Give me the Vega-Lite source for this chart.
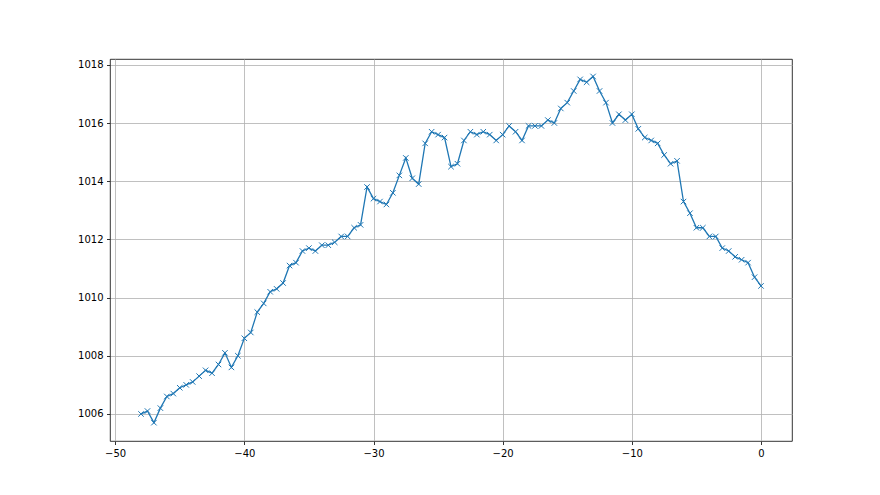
{
  "$schema": "https://vega.github.io/schema/vega-lite/v6.json",
  "autosize": "none",
  "width": 682,
  "height": 382,
  "padding": {"left": 110, "top": 59, "right": 88, "bottom": 54},
  "background": "white",
  "config": {
    "view": {"stroke": "black", "strokeWidth": 0.8},
    "axis": {
      "labelFont": "DejaVu Sans",
      "labelFontSize": 10,
      "labelColor": "black",
      "tickColor": "black",
      "tickSize": 3.5,
      "tickWidth": 0.8,
      "domain": false,
      "gridColor": "#b0b0b0",
      "gridWidth": 0.8,
      "labelPadding": 3.5,
      "title": null
    }
  },
  "data": {"values": [
    {"x": -48, "y": 1006.0}, {"x": -47.5, "y": 1006.1}, {"x": -47, "y": 1005.7}, {"x": -46.5, "y": 1006.2},
    {"x": -46, "y": 1006.6}, {"x": -45.5, "y": 1006.7}, {"x": -45, "y": 1006.9}, {"x": -44.5, "y": 1007.0},
    {"x": -44, "y": 1007.1}, {"x": -43.5, "y": 1007.3}, {"x": -43, "y": 1007.5}, {"x": -42.5, "y": 1007.4},
    {"x": -42, "y": 1007.7}, {"x": -41.5, "y": 1008.1}, {"x": -41, "y": 1007.6}, {"x": -40.5, "y": 1008.0},
    {"x": -40, "y": 1008.6}, {"x": -39.5, "y": 1008.8}, {"x": -39, "y": 1009.5}, {"x": -38.5, "y": 1009.8},
    {"x": -38, "y": 1010.2}, {"x": -37.5, "y": 1010.3}, {"x": -37, "y": 1010.5}, {"x": -36.5, "y": 1011.1},
    {"x": -36, "y": 1011.2}, {"x": -35.5, "y": 1011.6}, {"x": -35, "y": 1011.7}, {"x": -34.5, "y": 1011.6},
    {"x": -34, "y": 1011.8}, {"x": -33.5, "y": 1011.8}, {"x": -33, "y": 1011.9}, {"x": -32.5, "y": 1012.1},
    {"x": -32, "y": 1012.1}, {"x": -31.5, "y": 1012.4}, {"x": -31, "y": 1012.5}, {"x": -30.5, "y": 1013.8},
    {"x": -30, "y": 1013.4}, {"x": -29.5, "y": 1013.3}, {"x": -29, "y": 1013.2}, {"x": -28.5, "y": 1013.6},
    {"x": -28, "y": 1014.2}, {"x": -27.5, "y": 1014.8}, {"x": -27, "y": 1014.1}, {"x": -26.5, "y": 1013.9},
    {"x": -26, "y": 1015.3}, {"x": -25.5, "y": 1015.7}, {"x": -25, "y": 1015.6}, {"x": -24.5, "y": 1015.5},
    {"x": -24, "y": 1014.5}, {"x": -23.5, "y": 1014.6}, {"x": -23, "y": 1015.4}, {"x": -22.5, "y": 1015.7},
    {"x": -22, "y": 1015.6}, {"x": -21.5, "y": 1015.7}, {"x": -21, "y": 1015.6}, {"x": -20.5, "y": 1015.4},
    {"x": -20, "y": 1015.6}, {"x": -19.5, "y": 1015.9}, {"x": -19, "y": 1015.7}, {"x": -18.5, "y": 1015.4},
    {"x": -18, "y": 1015.9}, {"x": -17.5, "y": 1015.9}, {"x": -17, "y": 1015.9}, {"x": -16.5, "y": 1016.1},
    {"x": -16, "y": 1016.0}, {"x": -15.5, "y": 1016.5}, {"x": -15, "y": 1016.7}, {"x": -14.5, "y": 1017.1},
    {"x": -14, "y": 1017.5}, {"x": -13.5, "y": 1017.4}, {"x": -13, "y": 1017.6}, {"x": -12.5, "y": 1017.1},
    {"x": -12, "y": 1016.7}, {"x": -11.5, "y": 1016.0}, {"x": -11, "y": 1016.3}, {"x": -10.5, "y": 1016.1},
    {"x": -10, "y": 1016.3}, {"x": -9.5, "y": 1015.8}, {"x": -9, "y": 1015.5}, {"x": -8.5, "y": 1015.4},
    {"x": -8, "y": 1015.3}, {"x": -7.5, "y": 1014.9}, {"x": -7, "y": 1014.6}, {"x": -6.5, "y": 1014.7},
    {"x": -6, "y": 1013.3}, {"x": -5.5, "y": 1012.9}, {"x": -5, "y": 1012.4}, {"x": -4.5, "y": 1012.4},
    {"x": -4, "y": 1012.1}, {"x": -3.5, "y": 1012.1}, {"x": -3, "y": 1011.7}, {"x": -2.5, "y": 1011.6},
    {"x": -2, "y": 1011.4}, {"x": -1.5, "y": 1011.3}, {"x": -1, "y": 1011.2}, {"x": -0.5, "y": 1010.7},
    {"x": 0, "y": 1010.4}
  ]},
  "encoding": {
    "x": {"field": "x", "type": "quantitative",
      "scale": {"domain": [-50.4, 2.4], "nice": false, "zero": false},
      "axis": {"values": [-50, -40, -30, -20, -10, 0], "format": "d"}},
    "y": {"field": "y", "type": "quantitative",
      "scale": {"domain": [1005.07, 1018.2], "nice": false, "zero": false},
      "axis": {"values": [1006, 1008, 1010, 1012, 1014, 1016, 1018], "format": "d"}}
  },
  "layer": [
    {"mark": {"type": "line", "color": "#1f77b4", "strokeWidth": 1.3, "clip": true}},
    {"mark": {"type": "point", "shape": "M-1,-1L1,1M-1,1L1,-1", "filled": false, "color": "#1f77b4", "strokeWidth": 1, "size": 30, "opacity": 1, "clip": true}}
  ]
}
